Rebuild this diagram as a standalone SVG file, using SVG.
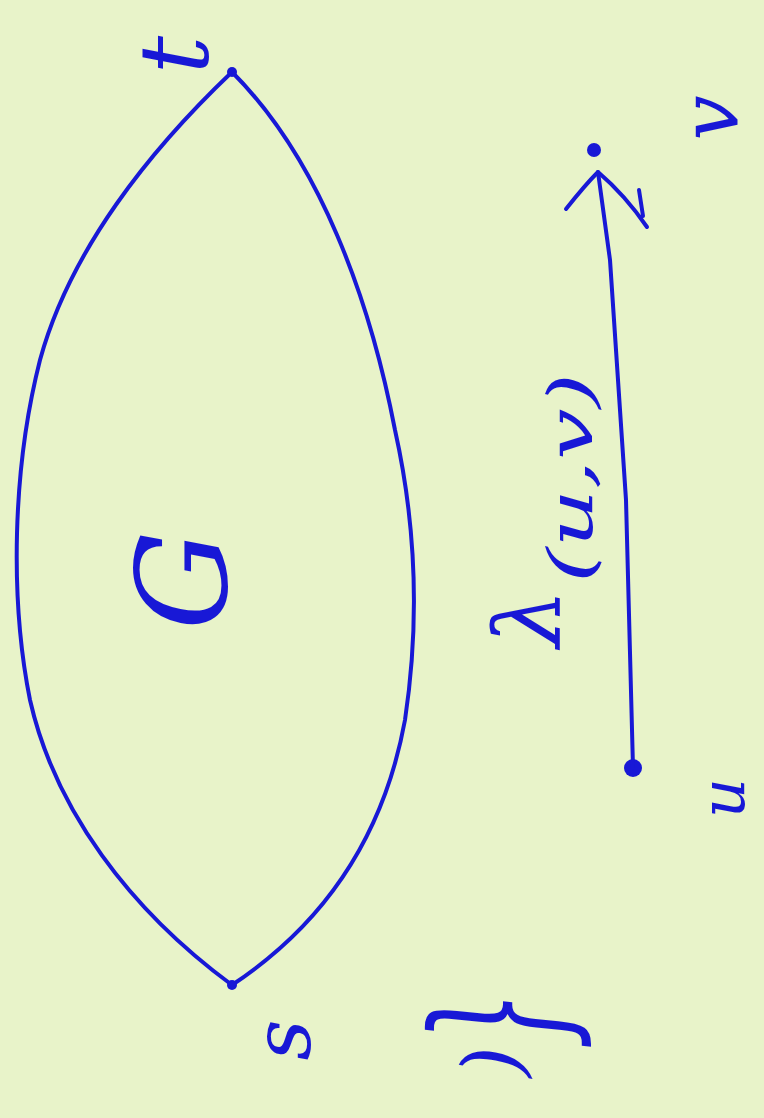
<svg xmlns="http://www.w3.org/2000/svg" width="764" height="1118" viewBox="0 0 764 1118">
<style>
.ink{fill:none;stroke:#1818d6;stroke-width:4;stroke-linecap:round;stroke-linejoin:round}
.dot{fill:#1818d6}
.lbl{fill:#1818d6;font-family:"DejaVu Serif","Liberation Serif",serif;font-style:italic;text-anchor:middle;dominant-baseline:central}
</style>
<rect width="764" height="1118" fill="#e8f3c9"/>
<g id="graph-G">
<path class="ink" d="M232,72 C150,150 70,250 40,360 C12,470 10,600 30,700 C55,810 130,910 232,985 C330,920 385,830 405,720 C420,620 415,520 395,430 C370,300 320,160 232,72 Z"/>
<circle class="dot" cx="232" cy="72" r="5"/>
<circle class="dot" cx="232" cy="985" r="5"/>
<text class="lbl" font-size="125" transform="translate(182,580) rotate(-90)">G</text>
</g>
<g id="node-t"><text class="lbl" font-size="95" transform="translate(175,55) rotate(-90)">t</text></g>
<g id="node-s"><text class="lbl" font-size="80" transform="translate(282,1040) rotate(-90)">s</text></g>
<g id="node-v">
<circle class="dot" cx="594" cy="150" r="7"/>
<text class="lbl" font-size="80" transform="translate(710,118) rotate(-90)">v</text>
</g>
<g id="node-u">
<circle class="dot" cx="633" cy="768" r="9"/>
<text class="lbl" font-size="62" transform="translate(722,798) rotate(-90)">u</text>
</g>
<g id="connectors">
<path class="ink" d="M633,768 L626,500 L610,260 L598,172"/>
<path class="ink" d="M566,209 Q585,185 598,172 Q625,195 647,227 M639,190 L643,216"/>
<text class="lbl" font-size="92" transform="translate(528,618) rotate(-90)">λ</text>
<text class="lbl" font-size="62" textLength="210" lengthAdjust="spacingAndGlyphs" transform="translate(570,478) rotate(-90)">(u,v)</text>
</g>
<g id="set-label">
<text class="lbl" font-size="120" textLength="60" lengthAdjust="spacingAndGlyphs" transform="translate(500,1020) rotate(-90) scale(1,1.5)">}</text>
<text class="lbl" font-size="80" transform="translate(492,1062) rotate(-90)">)</text>
</g>
</svg>
